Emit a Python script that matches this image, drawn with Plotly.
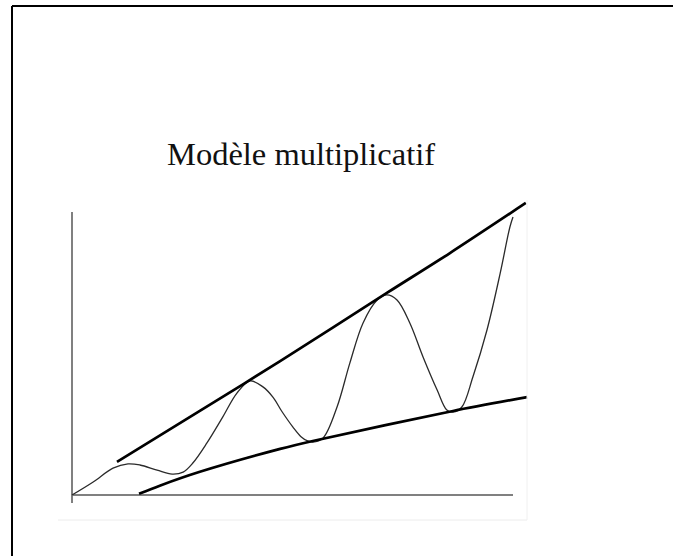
import plotly.graph_objects as go

# ---- data (logical units: x 0..10 along the time axis, y 0..10 up the value axis) ----
series_x = [0.0, 0.48, 0.93, 1.27, 1.54, 1.93, 2.27, 2.52, 2.74, 3.06, 3.42, 3.74, 4.04,
            4.33, 4.56, 4.76, 5.01, 5.20, 5.33, 5.46, 5.69, 6.01, 6.30, 6.60, 6.92, 7.14,
            7.37, 7.66, 7.96, 8.28, 8.50, 8.64, 8.84, 9.09, 9.41, 9.71, 9.93, 10.0]
series_y = [0.0, 0.46, 0.95, 1.10, 1.06, 0.88, 0.74, 0.81, 1.13, 1.84, 2.76, 3.60, 4.03,
            3.82, 3.45, 2.95, 2.40, 2.05, 1.92, 1.87, 2.01, 3.11, 4.66, 6.08, 6.89, 7.07,
            6.89, 6.08, 4.88, 3.71, 3.00, 2.93, 3.11, 4.17, 5.83, 7.84, 9.47, 9.82]

upper_x = [1.02, 3.0, 4.72, 7.14, 8.57, 10.29]
upper_y = [1.17, 3.07, 4.73, 7.14, 8.55, 10.32]

lower_x = [1.52, 1.99, 2.90, 4.72, 5.46, 8.64, 10.32]
lower_y = [0.04, 0.33, 0.82, 1.63, 1.91, 2.97, 3.46]

vaxis_x = [0, 0]
vaxis_y = [-0.28, 10.0]
haxis_x = [0, 10.0]
haxis_y = [0, 0]

title_text = "Modèle multiplicatif"

# ---- layout geometry ----
W, H = 673, 556
ORIG_PX = (72, 495)       # pixel position of the (0,0) origin
PX_PER_X = 44.1
PX_PER_Y = 28.3
x_range = [-ORIG_PX[0] / PX_PER_X, (W - ORIG_PX[0]) / PX_PER_X]
y_range = [-(H - ORIG_PX[1]) / PX_PER_Y, ORIG_PX[1] / PX_PER_Y]

fig = go.Figure()
axis_style = dict(color="#808080", width=2)
fig.add_trace(go.Scatter(x=vaxis_x, y=vaxis_y, mode="lines", line=axis_style, hoverinfo="skip"))
fig.add_trace(go.Scatter(x=haxis_x, y=haxis_y, mode="lines", line=axis_style, hoverinfo="skip"))
fig.add_trace(go.Scatter(x=series_x, y=series_y, mode="lines",
                         line=dict(color="#2a2a2a", width=1.3, shape="spline", smoothing=1.0)))
fig.add_trace(go.Scatter(x=upper_x, y=upper_y, mode="lines",
                         line=dict(color="#000000", width=2.7, shape="spline", smoothing=0.8)))
fig.add_trace(go.Scatter(x=lower_x, y=lower_y, mode="lines",
                         line=dict(color="#000000", width=2.7, shape="spline", smoothing=0.8)))

fig.update_layout(
    width=W, height=H,
    margin=dict(l=0, r=0, t=0, b=0),
    paper_bgcolor="white", plot_bgcolor="white",
    showlegend=False,
    xaxis=dict(range=x_range, visible=False, fixedrange=True),
    yaxis=dict(range=y_range, visible=False, fixedrange=True),
    annotations=[dict(text=title_text, xref="paper", yref="paper",
                      x=301 / W, y=1 - 154 / H, xanchor="center", yanchor="middle",
                      showarrow=False,
                      font=dict(family="Liberation Serif, Times New Roman, serif", size=32.5, color="#111111"))],
    shapes=[
        # slide frame (left and top edges)
        dict(type="line", xref="paper", yref="paper", x0=12 / W, x1=12 / W, y0=0, y1=1 - 6 / H,
             line=dict(color="black", width=2)),
        dict(type="line", xref="paper", yref="paper", x0=12 / W, x1=1, y0=1 - 6 / H, y1=1 - 6 / H,
             line=dict(color="black", width=2)),
        # faint picture edge
        dict(type="line", xref="paper", yref="paper", x0=58 / W, x1=527 / W, y0=1 - 520 / H, y1=1 - 520 / H,
             line=dict(color="#ececec", width=1)),
        dict(type="line", xref="paper", yref="paper", x0=527 / W, x1=527 / W, y0=1 - 520 / H, y1=1 - 200 / H,
             line=dict(color="#f0f0f0", width=1)),
    ],
)

fig.write_html("out.html", config={"displayModeBar": False},
               post_script="document.body.style.margin='0';document.body.style.overflow='hidden';")
